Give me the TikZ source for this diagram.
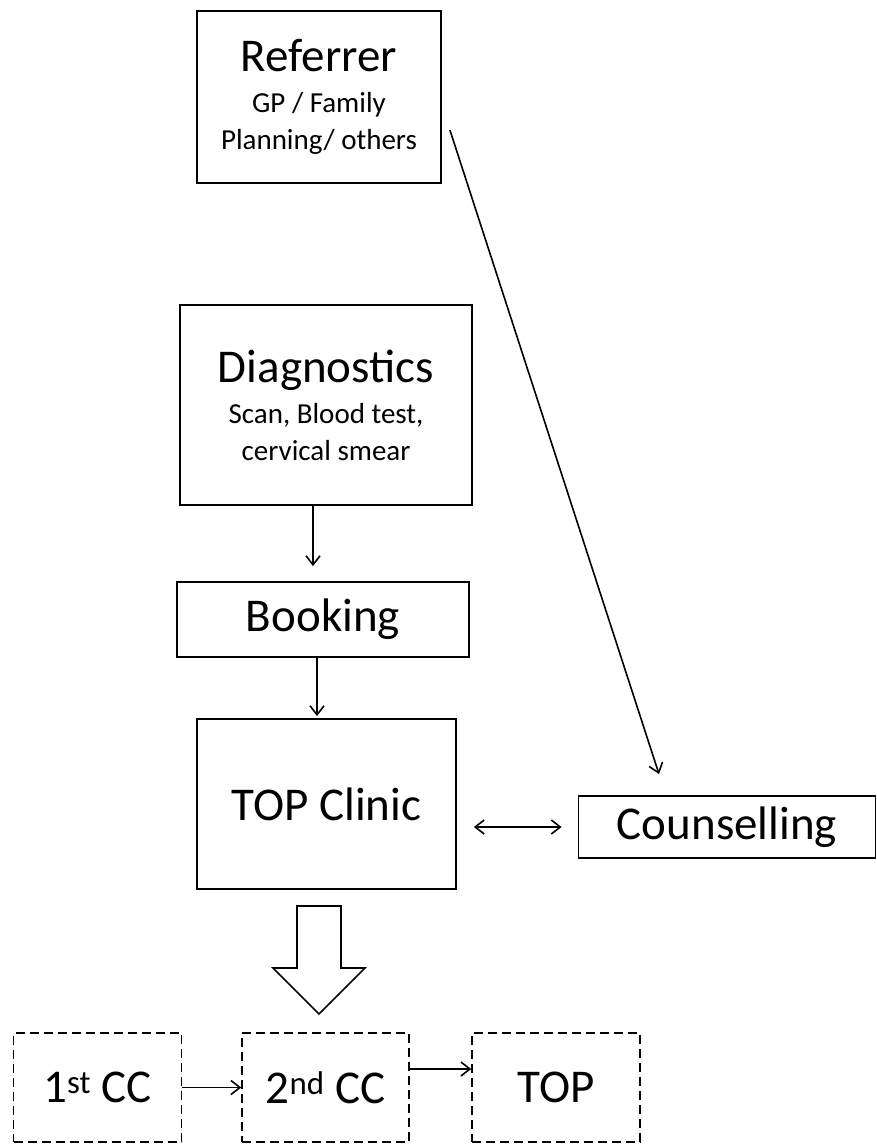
\documentclass[tikz,border=0pt]{standalone}
\usepackage{fontspec}
\setmainfont{Carlito}
\usetikzlibrary{arrows.meta}
\newcommand{\bigtxt}{\fontsize{47}{54}\selectfont}
\newcommand{\subtxt}{\fontsize{29}{37}\selectfont}
\begin{document}
\begin{tikzpicture}[x=1pt, y=-1pt, >={Straight Barb[length=9pt, width=14pt]},
  box/.style={draw, line width=1.8pt, align=center, inner sep=0pt, font=\bigtxt},
  subbox/.style={box, font=\subtxt},
  dbox/.style={box, line width=1.5pt, dash pattern=on 9pt off 5pt, minimum width=168pt, minimum height=109pt},
  arr/.style={->, line width=1.6pt}]
\useasboundingbox (0,0) rectangle (877,1146);
% boxes
\node[subbox, minimum width=244pt, minimum height=172pt] (ref) at (319,97) {{\bigtxt Referrer}\\[4pt]GP / Family\\Planning/ others};
\node[subbox, minimum width=292pt, minimum height=200pt] (diag) at (326,405) {{\bigtxt Diagnostics}\\[4pt]Scan, Blood test,\\cervical smear};
\node[box, minimum width=292pt, minimum height=75pt] (book) at (323,619.5) {Booking};
\node[box, minimum width=259pt, minimum height=170pt] (clinic) at (326.5,804) {TOP Clinic};
\node[box, minimum width=297pt, minimum height=62pt] (couns) at (727,827) {Counselling};
%\node at (326,900) {};
\node[dbox] (cc1) at (97.5,1087.5) {1\textsuperscript{st} CC};
\node[dbox, minimum width=167pt] (cc2) at (325.5,1087.5) {2\textsuperscript{nd} CC};
\node[dbox] (top) at (556,1087.5) {TOP};
% arrows
\draw[arr, shorten >=15pt] (313,0 |- diag.south) -- (313,0 |- book.north);
\draw[arr, shorten >=2pt] (317,0 |- book.south) -- (317,0 |- clinic.north);
\draw[arr] ([shift={(8,33)}]ref.east) -- ([shift={(-68,-21)}]couns.north);
\draw[arr, <->, shorten <=17pt, shorten >=16pt] (clinic.east |- couns.west) -- (couns.west);
\draw[line width=1.6pt, line join=miter] (297,906) -- (341,906) -- (341,968) -- (365,968) -- (319,1014) -- (273,968) -- (297,968) -- cycle;
\draw[arr] (cc1.east) -- (cc2.west);
\draw[arr] ([yshift=18.5]cc2.east) -- ([yshift=18.5]top.west);
\end{tikzpicture}
\end{document}
